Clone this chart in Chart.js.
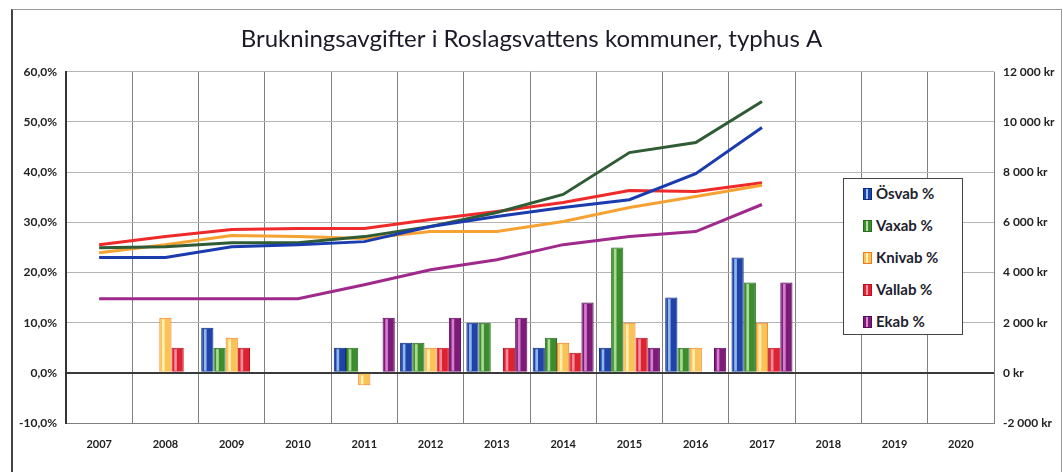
<!DOCTYPE html>
<html>
<head>
<meta charset="utf-8">
<script src="https://cdn.jsdelivr.net/npm/chart.js@4.4.1/dist/chart.umd.min.js"></script>
<style>
  html, body { margin: 0; padding: 0; background: #fff; }
  #wrap { position: relative; width: 1063px; height: 472px; overflow: hidden; }
  #frame { position: absolute; left: 11px; top: 9px; width: 1048px; height: 480px;
           border-left: 2px solid #444; border-top: 1px solid #999; border-right: 1px solid #999; }
  canvas { position: absolute; left: 0; top: 0; }
  #legend { position: absolute; left: 843px; top: 178px; width: 120px; height: 157px;
            border: 1px solid #444; background: #fff; box-sizing: border-box;
            font-family: Lato, "Open Sans", sans-serif; font-weight: bold; font-size: 15px; color: #1e1e2e; }
  .item { position: absolute; left: 19px; height: 18px; line-height: 18px; white-space: nowrap; }
  .mk { display: inline-block; width: 9px; height: 12px; margin-right: 4px; vertical-align: -1px; box-sizing: border-box; border: 1px solid; }
</style>
</head>
<body>
<div id="wrap">
  <div id="frame"></div>
  <canvas id="c" width="1063" height="472"></canvas>
  <div id="legend"></div>
</div>
<script>
// ---- data ----
const years = ['2007','2008','2009','2010','2011','2012','2013','2014','2015','2016','2017','2018','2019','2020'];
const seriesNames = ['Ösvab %','Vaxab %','Knivab %','Vallab %','Ekab %'];

// percentage change per year (left axis)
const osvabPct  = [null, null, 9, null, 5, 6, 10, 5, 5, 15, 23, null, null, null];
const vaxabPct  = [null, null, 5, null, 5, 6, 10, 7, 25, 5, 18, null, null, null];
const knivabPct = [null, 11, 7, null, -2.5, 5, null, 6, 10, 5, 10, null, null, null];
const vallabPct = [null, 5, 5, null, null, 5, 5, 4, 7, null, 5, null, null, null];
const ekabPct   = [null, null, null, null, 11, 11, 11, 14, 5, 5, 18, null, null, null];

// annual fee in kr (right axis)
const osvabKr  = [4600, 4600, 5030, 5110, 5230, 5830, 6230, 6590, 6900, 7940, 9780, null, null, null];
const vaxabKr  = [4990, 5030, 5190, 5190, 5430, 5830, 6390, 7110, 8780, 9180, 10820, null, null, null];
const knivabKr = [4790, 5110, 5470, 5430, 5350, 5630, 5630, 6030, 6590, 7030, 7480, null, null, null];
const vallabKr = [5110, 5430, 5710, 5750, 5750, 6110, 6430, 6790, 7270, 7230, 7580, null, null, null];
const ekabKr   = [2950, 2950, 2950, 2950, 3510, 4110, 4510, 5110, 5430, 5630, 6710, null, null, null];

const leftTicks = [-10, 0, 10, 20, 30, 40, 50, 60];
const rightTicks = [-2000, 0, 2000, 4000, 6000, 8000, 10000, 12000];

// ---- styles ----
const barFill   = ['#1f43a6', '#3d8c2f', '#f9c455', '#df2232', '#7c1c78'];
const barBorder = ['#0d2a82', '#2a6a22', '#ef7a22', '#b8101e', '#5a0a58'];
const barLight  = ['#9cc4f4', '#b4e49c', '#fff2bc', '#f79aa6', '#e08ad6'];
const lineColor = ['#1b3cae', '#2f5c34', '#f6a232', '#ee2a2a', '#a02a8c'];

const pctSeries = [osvabPct, vaxabPct, knivabPct, vallabPct, ekabPct];
const krSeries = [osvabKr, vaxabKr, knivabKr, vallabKr, ekabKr];

const datasets = [];
pctSeries.forEach((d, i) => datasets.push({
  type: 'bar', label: seriesNames[i], data: d, yAxisID: 'y', order: 2,
  backgroundColor: barFill[i], borderColor: barBorder[i], borderWidth: 1,
  barPercentage: 1.0, categoryPercentage: 0.92, _light: barLight[i]
}));
krSeries.forEach((d, i) => datasets.push({
  type: 'line', label: seriesNames[i].replace('%', 'kr'), data: d, yAxisID: 'y2', order: 1,
  borderColor: lineColor[i], backgroundColor: lineColor[i], borderWidth: 3,
  pointRadius: 0, tension: 0, spanGaps: false
}));

const tickFont = { family: 'Lato, "Open Sans", sans-serif', size: 11, weight: 'bold' };
const yFont = { family: 'Lato, "Open Sans", sans-serif', size: 12, weight: 'bold' };

const highlight = {
  id: 'highlight',
  afterDatasetDraw(chart, args) {
    const ds = chart.data.datasets[args.index];
    if (ds.type !== 'bar') return;
    const ctx = chart.ctx;
    ctx.save();
    args.meta.data.forEach((el, j) => {
      if (ds.data[j] === null) return;
      const p = el.getProps(['x', 'y', 'base', 'width'], true);
      const top = Math.min(p.y, p.base) + 1.5, bot = Math.max(p.y, p.base) - 1;
      if (bot - top < 1) return;
      ctx.fillStyle = ds._light;
      ctx.globalAlpha = 0.9;
      ctx.fillRect(p.x - p.width * 0.28, top, p.width * 0.22, bot - top);
    });
    ctx.restore();
  }
};

const chart = new Chart(document.getElementById('c'), {
  data: { labels: years, datasets },
  plugins: [highlight],
  options: {
    responsive: false, animation: false,
    layout: { padding: { left: 0, right: 0, top: 0, bottom: 0 } },
    plugins: {
      legend: { display: false },
      tooltip: { enabled: false },
      title: {
        display: true, text: 'Brukningsavgifter i Roslagsvattens kommuner, typhus A',
        color: '#1a1a28', font: { family: 'Lato, "Open Sans", sans-serif', size: 24, weight: 'normal' },
        padding: { top: 25, bottom: 18 }
      }
    },
    scales: {
      x: {
        offset: true,
        grid: { offset: true, color: '#808080', lineWidth: 1, drawTicks: false },
        border: { display: true, color: '#808080', width: 1 },
        ticks: { color: '#222', font: tickFont, padding: 15, maxRotation: 0 },
        afterFit(s) { s.height = 49; }
      },
      y: {
        position: 'left', min: -10, max: 60,
        afterBuildTicks(s) { s.ticks = leftTicks.map(v => ({ value: v })); },
        grid: {
          drawTicks: false,
          color: c => c.tick && c.tick.value === 0 ? '#3a3a3a' : (c.tick && c.tick.value === -10 ? '#808080' : '#b4b4b4'),
          lineWidth: c => c.tick && c.tick.value === 0 ? 2 : 1
        },
        border: { display: true, color: '#333', width: 2 },
        ticks: { color: '#222', font: yFont, padding: 9,
                 callback: v => v.toFixed(1).replace('.', ',') + '%' },
        afterFit(s) { s.width = 66; }
      },
      y2: {
        position: 'right', min: -2000, max: 12000,
        afterBuildTicks(s) { s.ticks = rightTicks.map(v => ({ value: v })); },
        grid: { display: false, drawTicks: false },
        border: { display: false },
        ticks: { color: '#222', font: yFont, padding: 9,
                 callback: v => (v < 0 ? '-' : '') + (Math.abs(v) >= 1000 ? Math.floor(Math.abs(v) / 1000) + ' 000' : '0') + ' kr' },
        afterFit(s) { s.width = 69; }
      }
    }
  }
});

// legend built from the bar datasets
const leg = document.getElementById('legend');
const tops = [5, 37, 69, 101, 133];
chart.data.datasets.filter(d => d.type === 'bar').forEach((d, i) => {
  const it = document.createElement('div');
  it.className = 'item';
  it.style.top = tops[i] + 'px';
  const mk = document.createElement('span');
  mk.className = 'mk';
  mk.style.background = `linear-gradient(90deg, ${d.backgroundColor} 0 25%, ${d._light} 25% 55%, ${d.backgroundColor} 55%)`;
  mk.style.borderColor = d.borderColor;
  it.appendChild(mk);
  it.appendChild(document.createTextNode(d.label));
  leg.appendChild(it);
});
</script>
</body>
</html>
